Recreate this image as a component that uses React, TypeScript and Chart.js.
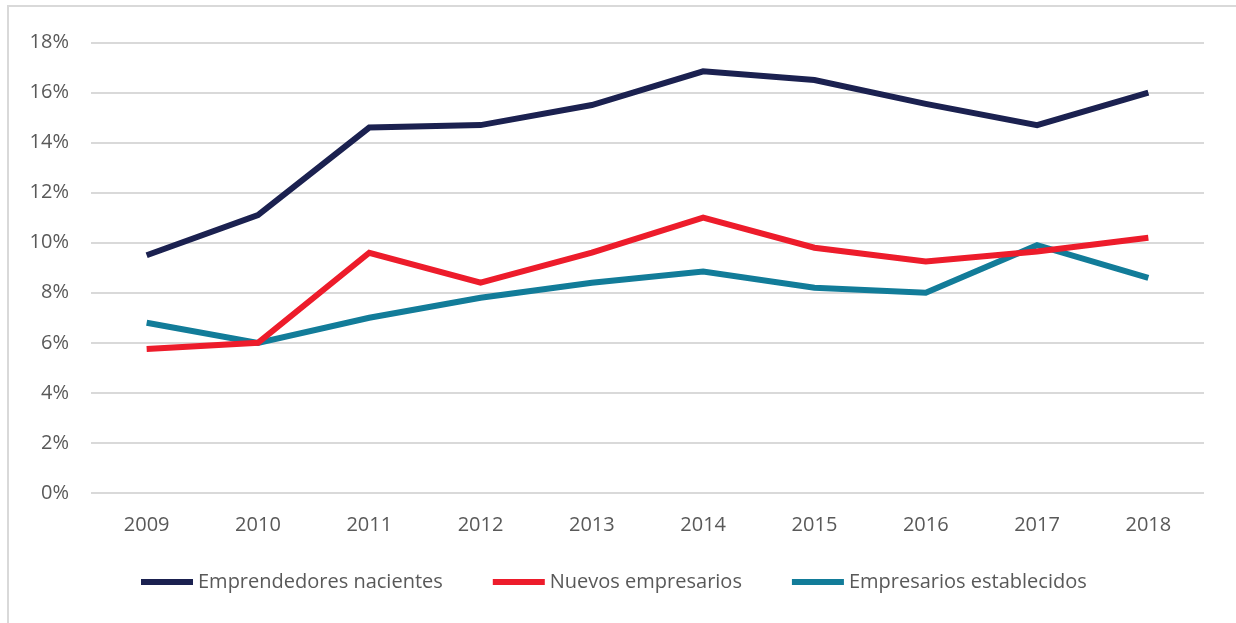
import React, { useEffect, useRef } from "react";
import { Chart, registerables } from "chart.js";

Chart.register(...registerables);

const years = ["2009", "2010", "2011", "2012", "2013", "2014", "2015", "2016", "2017", "2018"];
const nacientes = [9.5, 11.1, 14.6, 14.7, 15.5, 16.85, 16.5, 15.55, 14.7, 16.0];
const nuevos = [5.75, 6.0, 9.6, 8.4, 9.6, 11.0, 9.8, 9.25, 9.65, 10.2];
const establecidos = [6.8, 6.0, 7.0, 7.8, 8.4, 8.85, 8.2, 8.0, 9.9, 8.6];
const seriesNames = ["Emprendedores nacientes", "Nuevos empresarios", "Empresarios establecidos"];
const seriesColors = ["#1b2150", "#ed1c2b", "#127c99"];

const FONT_FAMILY = "'Open Sans', sans-serif";
const FONT_SIZE = 20;

const legendPlugin = {
  id: "customLegend",
  afterDraw(chart: any) {
    const ctx = chart.ctx as CanvasRenderingContext2D;
    ctx.save();
    ctx.font = `${FONT_SIZE}px ${FONT_FAMILY}`;
    ctx.textBaseline = "middle";
    ctx.textAlign = "left";
    const y = 582;
    let x = 141;
    chart.data.datasets.forEach((ds: any) => {
      ctx.fillStyle = ds.borderColor;
      ctx.fillRect(x, y - 3, 52, 6);
      x += 52 + 5;
      ctx.fillStyle = "#595959";
      ctx.fillText(ds.label, x, y);
      x += ctx.measureText(ds.label).width + 50;
    });
    ctx.restore();
  },
};

export default function App() {
  const ref = useRef<HTMLCanvasElement | null>(null);
  useEffect(() => {
    document.body.style.margin = "0";
    const font = { family: FONT_FAMILY, size: FONT_SIZE };
    const chart = new Chart(ref.current!, {
      type: "line",
      data: {
        labels: years,
        datasets: [nacientes, nuevos, establecidos].map((d, i) => ({
          label: seriesNames[i],
          data: d,
          borderColor: seriesColors[i],
          backgroundColor: seriesColors[i],
          borderWidth: 6,
          pointRadius: 0,
          tension: 0,
          borderCapStyle: "butt" as const,
        })),
      },
      plugins: [legendPlugin],
      options: {
        animation: false,
        responsive: false,
        layout: { padding: { left: 0, right: 32, top: 42.5, bottom: 74 } },
        plugins: {
          tooltip: { enabled: false },
          legend: { display: false },
        },
        scales: {
          x: {
            offset: true,
            grid: { display: false, offset: true },
            border: { display: false },
            ticks: { color: "#595959", font, padding: 12, maxRotation: 0 },
          },
          y: {
            min: 0,
            max: 18,
            afterFit: (s: any) => {
              s.width = 91;
            },
            grid: { color: "#d9d9d9", lineWidth: 2, drawTicks: false },
            border: { display: false },
            ticks: {
              stepSize: 2,
              color: "#595959",
              font,
              padding: 22,
              callback: (v: any) => v + "%",
            },
          },
        },
      },
    });
    return () => chart.destroy();
  }, []);
  return (
    <div style={{ position: "relative", width: 1236, height: 623, overflow: "hidden", background: "#fff" }}>
      <div
        style={{
          position: "absolute",
          left: 7,
          top: 5,
          width: 1300,
          height: 700,
          border: "2px solid #d9d9d9",
        }}
      />
      <canvas ref={ref} width={1236} height={623} style={{ position: "absolute", left: 0, top: 0 }} />
    </div>
  );
}
